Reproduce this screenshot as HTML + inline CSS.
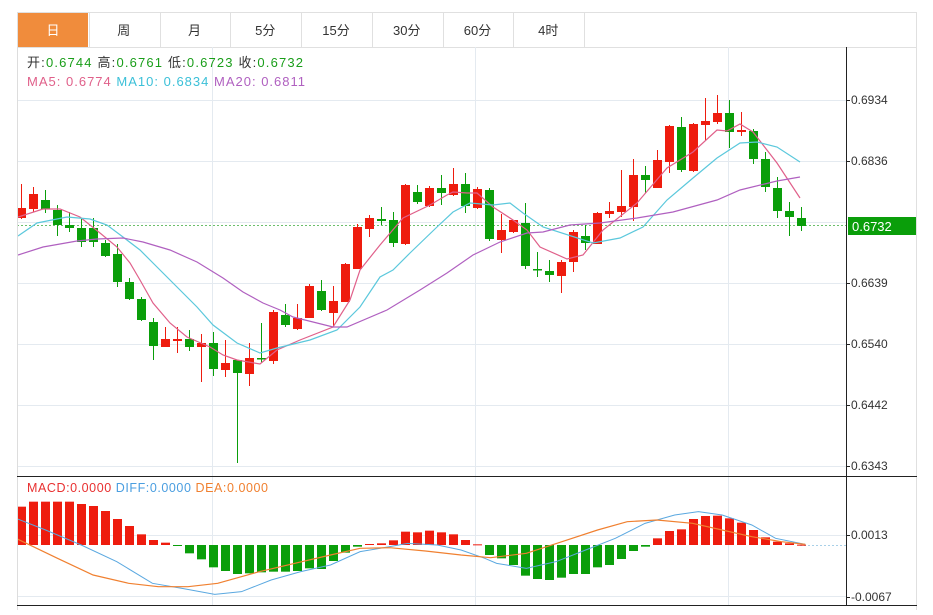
<!DOCTYPE html>
<html><head><meta charset="utf-8"><style>
body{margin:0;background:#fff;width:933px;height:610px;overflow:hidden;font-family:"Liberation Sans","Noto Sans CJK SC",sans-serif}
</style></head><body>
<svg id="s" width="933" height="610" xmlns="http://www.w3.org/2000/svg" style="font-family:'Liberation Sans','Noto Sans CJK SC',sans-serif">
<rect x="17.5" y="12.5" width="899" height="600" fill="none" stroke="#e0e0e0"/>
<line x1="17" y1="47.5" x2="917" y2="47.5" stroke="#e0e0e0"/>
<rect x="18" y="13" width="70" height="34" fill="#f08c3c"/>
<g id="tabs" font-size="13" text-anchor="middle" fill="#333"></g>
<g id="grid" stroke="#e4eaf0" stroke-width="1"></g>
<g id="plot"></g>
<line x1="17.5" y1="47" x2="17.5" y2="606" stroke="#ddd"/>
<line x1="846.5" y1="47" x2="846.5" y2="606" stroke="#222"/>
<line x1="17" y1="476.5" x2="917" y2="476.5" stroke="#222"/>
<line x1="17" y1="605.5" x2="917" y2="605.5" stroke="#222"/>
<text x="27" y="67" font-size="13" fill="#333" textLength="276" lengthAdjust="spacing">开:<tspan fill="#1a9e1a">0.6744</tspan>  高:<tspan fill="#1a9e1a">0.6761</tspan>  低:<tspan fill="#1a9e1a">0.6723</tspan>  收:<tspan fill="#1a9e1a">0.6732</tspan></text>
<text x="27" y="86" font-size="13" fill="#e0608a" textLength="278" lengthAdjust="spacing">MA5: 0.6774  <tspan fill="#3cc0d8">MA10: 0.6834</tspan>  <tspan fill="#b060c0">MA20: 0.6811</tspan></text>
<text x="27" y="492" font-size="12.5" fill="#e83030" textLength="241" lengthAdjust="spacing">MACD:0.0000   <tspan fill="#4a9ee0">DIFF:0.0000</tspan>   <tspan fill="#f08030">DEA:0.0000</tspan></text>
<g id="axis" font-size="12" fill="#333"></g>
<rect x="848" y="217" width="68" height="18" fill="#0a9e0a"/>
<text x="852" y="231" font-size="13" fill="#fff">0.6732</text>
</svg>
<script>
const NS="http://www.w3.org/2000/svg";
function el(p,t,a,txt){const e=document.createElementNS(NS,t);for(const k in a)e.setAttribute(k,a[k]);if(txt!==undefined)e.textContent=txt;p.appendChild(e);return e;}
const tabs=document.getElementById('tabs');
["日","周","月","5分","15分","30分","60分","4时"].forEach((t,i)=>{
 const x=18+i*70.75;
 el(tabs,'text',{x:x+35,y:35,fill:i==0?'#fff':'#333'},t);
 el(tabs,'line',{x1:Math.round(x+70.75)+.5,y1:13,x2:Math.round(x+70.75)+.5,y2:47,stroke:'#e0e0e0'});
});
const g=document.getElementById('grid');
[100,161,222,283,344,405,466,535,596].forEach(y=>el(g,'line',{x1:17,y1:y+.5,x2:846,y2:y+.5}));
[212,475,728].forEach(x=>el(g,'line',{x1:x+.5,y1:47,x2:x+.5,y2:606}));
const ax=document.getElementById('axis');
[[100,"0.6934"],[161,"0.6836"],[283,"0.6639"],[344,"0.6540"],[405,"0.6442"],[466,"0.6343"],[535,"0.0013"],[597,"-0.0067"]].forEach(([y,t])=>{
 el(ax,'line',{x1:846,y1:y+.5,x2:850,y2:y+.5,stroke:'#222'});
 el(ax,'text',{x:851,y:y+4},t);
});
const p=document.getElementById('plot');
const C=[[208,218,184,219,1],[194,209,187,212,1],[200,209,190,213,0],[210,225,205,236,0],[225,228,212,232,0],[228,242,219,247,0],[228,242,218,247,0],[243,256,240,257,0],[254,282,244,287,0],[282,299,278,300,0],[299,320,297,321,0],[322,346,318,360,0],[339,347,327,347,1],[339,341,327,353,1],[339,347,330,351,0],[343,347,334,382,1],[343,369,332,376,0],[363,370,340,377,1],[360,373,360,463,0],[358,374,343,386,1],[358,359,323,363,0],[312,361,310,364,1],
[315,325,304,327,0],[318,329,304,330,1],[286,318,284,318,1],[291,310,280,311,0],[301,313,286,327,1],[264,302,263,302,1],[227,269,224,269,1],[218,229,215,237,1],[219,221,207,225,0],[220,243,212,247,0],[185,244,184,245,1],[192,202,185,204,0],[188,206,186,207,1],[188,193,175,205,0],[184,195,168,196,1],[184,206,173,213,0],[189,208,187,209,1],[190,239,188,241,0],[230,240,214,253,1],[220,232,220,233,1],[223,266,203,269,0],[269,270,252,277,0],
[271,275,260,282,0],[262,276,260,293,1],[232,262,230,272,1],[236,243,225,250,0],[213,244,212,244,1],[211,214,202,218,1],[206,212,170,217,1],[175,207,159,221,1],[175,180,166,193,0],[160,188,150,188,1],[126,162,125,173,1],[127,170,117,172,0],[124,171,123,172,1],[121,125,98,140,1],[113,122,95,124,1],[113,132,100,148,0],[130,132,112,136,1],[131,159,129,164,0],[159,187,152,192,0],[188,211,177,218,0],[211,217,202,236,0],[218,226,207,231,0]];
const defs=el(p,'defs',{});const cp=el(defs,'clipPath',{id:'c'});el(cp,'rect',{x:18,y:47,width:828,height:560});
const gp=el(p,'g',{'clip-path':'url(#c)'});
el(gp,'line',{x1:17,y1:225.5,x2:846,y2:225.5,stroke:'#6cbf6c','stroke-dasharray':'2,2'});
el(gp,'line',{x1:800,y1:545.5,x2:846,y2:545.5,stroke:'#a8d0e8','stroke-dasharray':'2,2'});
C.forEach((c,i)=>{const x=21+12*i,col=c[4]?'#ee1c0e':'#0a9e0a';
 el(gp,'line',{x1:x+.5,y1:c[2],x2:x+.5,y2:c[3],stroke:col});
 el(gp,'rect',{x:x-4,y:c[0],width:9,height:Math.max(1.5,c[1]-c[0]),fill:col});});
function pl(pts,col,w){el(gp,'polyline',{points:pts.map(q=>q.join(',')).join(' '),fill:'none',stroke:col,'stroke-width':w||1.2});}
pl([[18,217],[43,209],[60,209],[80,217],[100,233],[117,247],[130,263],[140,280],[153,303],[170,323],[187,337],[210,347],[223,355],[237,360],[260,364],[277,350],[300,340],[333,327],[350,300],[360,270],[380,245],[403,218],[430,205],[447,195],[453,192],[467,193],[477,193],[493,207],[513,220],[527,230],[540,247],[567,259],[583,255],[603,230],[637,203],[667,168],[693,152],[717,130],[727,131],[740,124],[753,132],[777,163],[800,198]],'#e0608a');
pl([[18,236],[37,223],[67,217],[90,219],[107,225],[123,237],[140,250],[157,267],[177,287],[197,307],[213,325],[237,343],[260,353],[277,348],[310,340],[337,330],[360,307],[380,277],[393,270],[410,253],[437,227],[453,212],[470,203],[493,205],[510,203],[523,213],[543,227],[593,243],[620,238],[643,227],[667,200],[693,178],[717,158],[740,143],[757,142],[777,147],[800,162]],'#5bc8dc');
pl([[18,255],[43,247],[77,241],[97,239],[123,238],[143,242],[170,250],[197,262],[223,278],[243,292],[263,303],[280,310],[293,317],[333,327],[347,327],[387,310],[420,290],[447,273],[473,255],[500,242],[527,233],[543,232],[570,225],[600,223],[637,218],[673,212],[717,200],[740,190],[777,181],[800,177]],'#b060c0');
const MM=[95,80,80,80,80,87,93,108,132,153,178,195,203,207,213,235,253,277,288,297,295,292,290,290,288,280,282,258,233,215,207,205,196,170,172,167,172,178,195,208,240,250,270,302,312,315,308,297,297,277,270,252,228,215,190,168,163,132,123,122,130,143,165,187,200,205,209];
for(let i=0;i<66;i++){const zy=MM[i+(i>=13?1:0)]||209;const y=475+zy/3;const x=21+12*i;
 const red=(i<13)||(i>=29&&i<=38)||(i>=53);const top=Math.min(y,545),h=Math.max(1,Math.abs(y-545));
 el(gp,'rect',{x:x-4,y:top,width:9,height:h,fill:red?'#ee1c0e':'#0a9e0a'});}
const tr=a=>a.map(([zx,zy])=>[10+zx/1.685,475+zy/3]);
pl(tr([[10,130],[60,165],[120,210],[180,260],[240,325],[290,340],[345,358],[390,350],[440,315],[490,290],[540,270],[590,230],[640,215],[670,205],[720,210],[760,225],[800,250],[820,265],[870,280],[920,260],[970,225],[1020,190],[1070,145],[1120,120],[1160,110],[1200,120],[1250,150],[1290,190],[1340,208]]),'#5aa8e0',1);
pl(tr([[10,190],[80,250],[140,300],[200,325],[250,335],[300,335],[350,325],[420,290],[480,265],[540,240],[590,220],[640,218],[700,228],[760,240],[810,248],[870,235],[930,200],[990,165],[1040,140],[1090,135],[1150,145],[1200,165],[1250,185],[1300,200],[1340,208]]),'#f08030',1.2);
</script>
</body></html>
